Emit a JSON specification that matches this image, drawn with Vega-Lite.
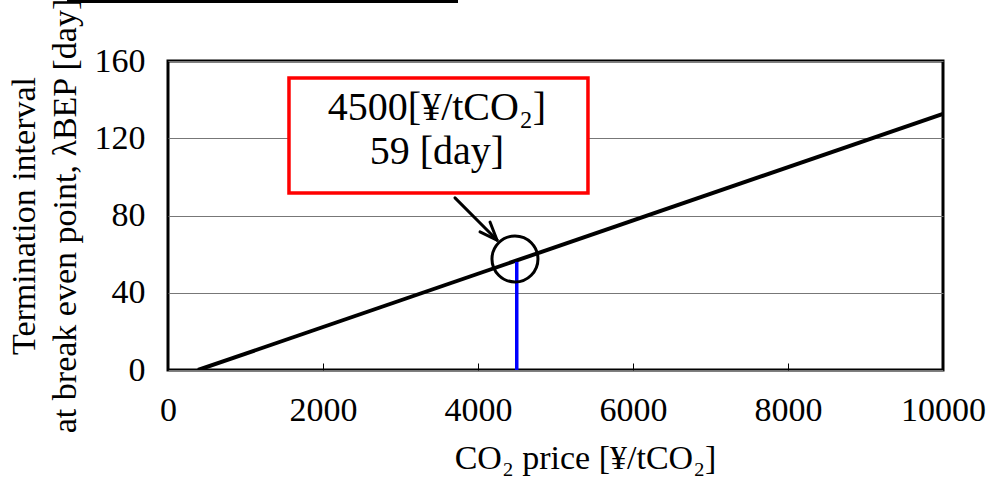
{
  "$schema": "https://vega.github.io/schema/vega-lite/v6.json",
  "width": 775,
  "height": 309,
  "autosize": "none",
  "padding": {"left": 168, "top": 61, "right": 48, "bottom": 112},
  "background": "white",
  "config": {
    "view": {"stroke": "black", "strokeWidth": 3},
    "font": "Liberation Serif",
    "text": {"font": "Liberation Serif"}
  },
  "layer": [
    {
      "data": {"values": [{"price": 387, "days": 0}, {"price": 10000, "days": 132.6}]},
      "mark": {"type": "line", "color": "black", "strokeWidth": 4, "clip": true},
      "encoding": {
        "x": {
          "field": "price", "type": "quantitative",
          "scale": {"domain": [0, 10000], "nice": false},
          "axis": {
            "values": [0, 2000, 4000, 6000, 8000, 10000],
            "format": "d", "labelFlush": false,
            "grid": false, "domain": false,
            "ticks": true, "tickSize": -7, "tickColor": "black", "tickWidth": 1,
            "labelFontSize": 34, "labelColor": "black", "labelPadding": 30,
            "labelFont": "Liberation Serif",
            "title": "CO₂ price [¥/tCO₂]",
            "titleFont": "Liberation Serif", "titleFontSize": 34, "titleFontWeight": "normal",
            "titleColor": "black", "titlePadding": 14,
            "titleX": 417, "titleAlign": "center"
          }
        },
        "y": {
          "field": "days", "type": "quantitative",
          "scale": {"domain": [0, 160], "nice": false},
          "axis": {
            "values": [0, 40, 80, 120, 160],
            "grid": true, "gridColor": "#777777", "gridWidth": 1,
            "domain": false, "ticks": false,
            "labelFontSize": 34, "labelColor": "black", "labelPadding": 23,
            "labelFont": "Liberation Serif",
            "title": ["Termination interval", "at break even point, λBEP [day]"],
            "titleFont": "Liberation Serif", "titleFontSize": 34, "titleFontWeight": "normal",
            "titleColor": "black", "titlePadding": 12, "titleLineHeight": 41
          }
        }
      }
    },
    {
      "data": {"values": [{"price": 4500, "y0": 0, "y1": 56}]},
      "mark": {"type": "rule", "color": "#0000ff", "strokeWidth": 3.5},
      "encoding": {
        "x": {"field": "price", "type": "quantitative"},
        "y": {"field": "y0", "type": "quantitative"},
        "y2": {"field": "y1"}
      }
    },
    {
      "data": {"values": [{"price": 4477, "days": 57.5}]},
      "mark": {"type": "point", "shape": "circle", "size": 2116, "filled": false, "stroke": "black", "strokeWidth": 3, "opacity": 1},
      "encoding": {
        "x": {"field": "price", "type": "quantitative"},
        "y": {"field": "days", "type": "quantitative"}
      }
    },
    {
      "data": {"values": [
        {"xa": 3703, "ya": 89.1, "xb": 4245, "yb": 67.3},
        {"xa": 4026, "ya": 71.5, "xb": 4245, "yb": 67.3},
        {"xa": 4155, "ya": 76.6, "xb": 4245, "yb": 67.3}
      ]},
      "mark": {"type": "rule", "color": "black", "strokeWidth": 3, "strokeCap": "round"},
      "encoding": {
        "x": {"field": "xa", "type": "quantitative"},
        "y": {"field": "ya", "type": "quantitative"},
        "x2": {"field": "xb"},
        "y2": {"field": "yb"}
      }
    },
    {
      "data": {"values": [{"x1": 1561, "x2": 5419, "y1": 151.2, "y2": 91.6}]},
      "mark": {"type": "rect", "fill": "white", "stroke": "#ff0000", "strokeWidth": 3.5},
      "encoding": {
        "x": {"field": "x1", "type": "quantitative"},
        "x2": {"field": "x2"},
        "y": {"field": "y1", "type": "quantitative"},
        "y2": {"field": "y2"}
      }
    },
    {
      "data": {"values": [
        {"price": 3471, "days": 129.4, "label": "4500[¥/tCO₂]"},
        {"price": 3471, "days": 106.7, "label": "59 [day]"}
      ]},
      "mark": {"type": "text", "fontSize": 40, "color": "black", "align": "center", "baseline": "alphabetic", "font": "Liberation Serif"},
      "encoding": {
        "x": {"field": "price", "type": "quantitative"},
        "y": {"field": "days", "type": "quantitative"},
        "text": {"field": "label"}
      }
    },
    {
      "data": {"values": [{"xa": -1303, "xb": 3742, "ya": 190.8}]},
      "mark": {"type": "rule", "color": "black", "strokeWidth": 3},
      "encoding": {
        "x": {"field": "xa", "type": "quantitative"},
        "x2": {"field": "xb"},
        "y": {"field": "ya", "type": "quantitative"}
      }
    }
  ]
}
